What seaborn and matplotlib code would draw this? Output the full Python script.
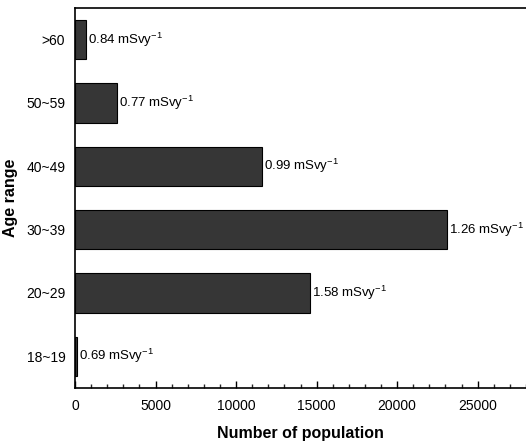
import matplotlib
matplotlib.use("Agg")
import matplotlib.pyplot as plt
from matplotlib.ticker import MultipleLocator
import seaborn as sns
import pandas as pd

age_ranges = [">60", "50~59", "40~49", "30~39", "20~29", "18~19"]
population = [700, 2600, 11600, 23100, 14600, 100]
dose_labels = ["0.84", "0.77", "0.99", "1.26", "1.58", "0.69"]

df = pd.DataFrame({"age": age_ranges, "pop": population})

sns.set_theme(style="white")
plt.rcParams["font.family"] = ["Liberation Sans", "DejaVu Sans"]
plt.rcParams["mathtext.default"] = "regular"

fig = plt.figure(figsize=(5.26, 4.42), dpi=100)
ax = fig.add_axes([75/526, 1-388/442, 451/526, 380/442])

sns.barplot(data=df, x="pop", y="age", order=age_ranges, orient="h",
            color="#363636", edgecolor="black", linewidth=0.8, width=0.62,
            saturation=1, ax=ax)

for i, (v, d) in enumerate(zip(population, dose_labels)):
    ax.text(v + 120, i, f"{d} mSvy$^{{-1}}$", va="center", ha="left",
            fontsize=9.5, color="black")

ax.set_xlim(0, 28000)
ax.set_ylim(5.5, -0.5)
ax.xaxis.set_major_locator(MultipleLocator(5000))
ax.xaxis.set_minor_locator(MultipleLocator(1000))
ax.tick_params(axis="x", which="major", direction="in", length=5, width=1,
               bottom=True, labelsize=10, pad=8, colors="black")
ax.tick_params(axis="x", which="minor", direction="in", length=3, width=1,
               bottom=True)
ax.tick_params(axis="y", left=False, length=0, labelsize=10, pad=7,
               colors="black")

for s in ["left", "bottom", "top"]:
    ax.spines[s].set_visible(True)
    ax.spines[s].set_color("black")
    ax.spines[s].set_linewidth(1.2)
ax.spines["right"].set_visible(False)

ax.set_xlabel("Number of population", fontsize=11.5, fontweight="bold",
              labelpad=9, color="black")
ax.set_ylabel("Age range", fontsize=11.5, fontweight="bold", labelpad=6,
              color="black")

fig.savefig("out.png", dpi=100)
